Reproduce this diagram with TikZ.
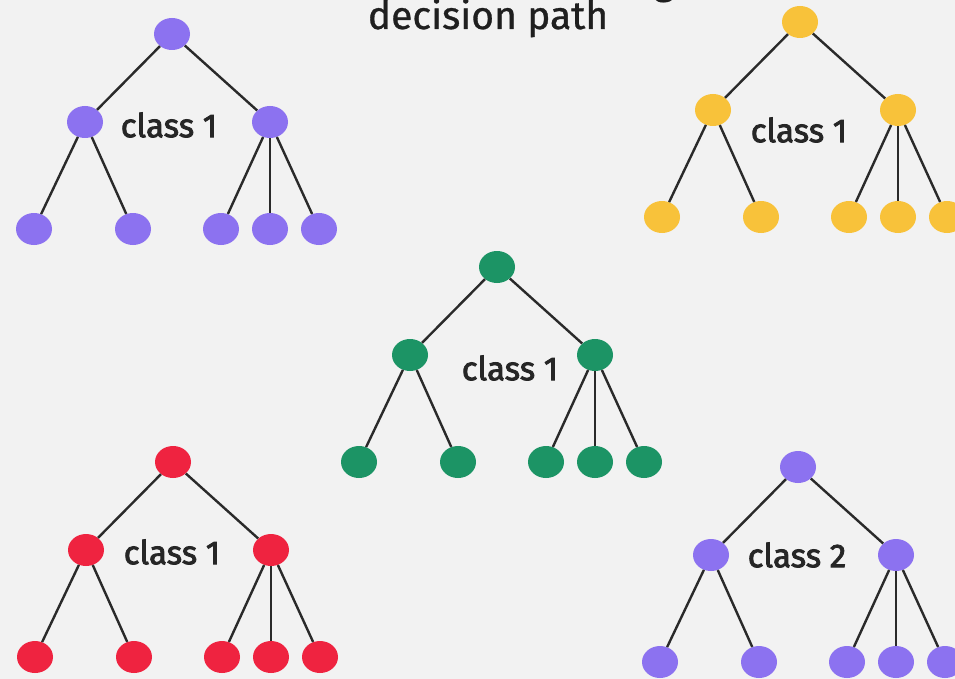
\documentclass[tikz,border=0pt]{standalone}
\usepackage{fontspec}
\setmainfont{Fira Sans}
\newfontfamily\labelfont{Fira Sans}[FakeBold=2.5]
\newfontfamily\headfont{Fira Sans}[FakeBold=0.8]
\usetikzlibrary{shapes.geometric}

\definecolor{bgcol}{HTML}{F2F2F2}
\definecolor{edgecol}{HTML}{2A2A2A}
\definecolor{purplenode}{HTML}{8C72F0}
\definecolor{yellownode}{HTML}{F8C23A}
\definecolor{greennode}{HTML}{1C9465}
\definecolor{rednode}{HTML}{EF2340}

\tikzset{
  treenode/.style={ellipse, inner sep=0pt, minimum width=36pt, minimum height=32pt, fill=#1},
  branch/.style={draw=edgecol, line width=2.4pt},
  classlabel/.style={font=\labelfont\fontsize{33}{38}\selectfont, text=black!85, inner sep=0pt},
  headtext/.style={anchor=base, inner sep=0pt, font=\headfont\fontsize{39}{44}\selectfont, text=black!88},
}

% one tree: prefix, colour, root x, root y, label dx, label dy, label text
\newcommand\drawtree[7]{%
  \node[treenode=#2] (#1root) at (#3,#4) {};
  \node[treenode=#2] (#1ml) at ({#3-87},{#4+88}) {};
  \node[treenode=#2] (#1mr) at ({#3+98},{#4+88}) {};
  \node[treenode=#2] (#1la) at ({#3-138},{#4+195}) {};
  \node[treenode=#2] (#1lb) at ({#3-39},{#4+195}) {};
  \node[treenode=#2] (#1lc) at ({#3+49},{#4+195}) {};
  \node[treenode=#2] (#1ld) at ({#3+98},{#4+195}) {};
  \node[treenode=#2] (#1le) at ({#3+147},{#4+195}) {};
  \draw[branch] (#1root) -- (#1ml);
  \draw[branch] (#1root) -- (#1mr);
  \draw[branch] (#1ml) -- (#1la);
  \draw[branch] (#1ml) -- (#1lb);
  \draw[branch] (#1mr) -- (#1lc);
  \draw[branch] (#1mr) -- (#1ld);
  \draw[branch] (#1mr) -- (#1le);
  \node[classlabel] (#1label) at ({#3+#5},{#4+#6}) {#7};
}

\begin{document}
\begin{tikzpicture}[x=1pt, y=-1pt]
  \fill[bgcol] (0,0) rectangle (955,679);
  \useasboundingbox (0,0) rectangle (955,679);

  % heading (its first line runs off the top edge)
  \node[headtext] (heading) at (488,29) {decision path};
  \node[headtext] (headtail) at (664,-6) {g};

  \drawtree{pa}{purplenode}{172}{34}{-3}{91}{class 1}
  \drawtree{ya}{yellownode}{800}{22}{-1}{108}{class 1}
  \drawtree{ga}{greennode}{497}{267}{13}{101}{class 1}
  \drawtree{ra}{rednode}{173}{462}{-1}{90}{class 1}
  \drawtree{pb}{purplenode}{798}{467}{-1}{88}{class 2}
\end{tikzpicture}
\end{document}
